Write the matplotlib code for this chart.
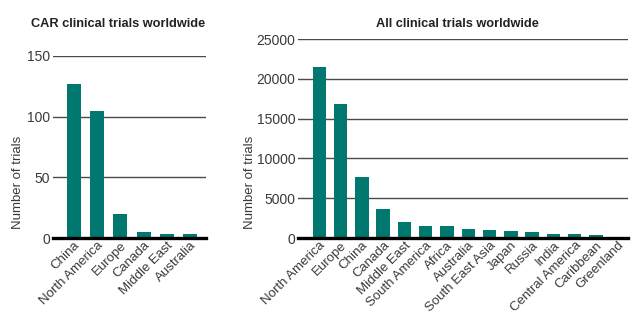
import matplotlib
matplotlib.use("Agg")
import matplotlib.pyplot as plt

plt.rcParams['font.family'] = ['Liberation Sans', 'DejaVu Sans']

car_regions = ["China", "North America", "Europe", "Canada", "Middle East", "Australia"]
car_trials = [127, 105, 20, 5, 3, 3]
car_ticks = [0, 50, 100, 150]

all_regions = ["North America", "Europe", "China", "Canada", "Middle East", "South America",
               "Africa", "Australia", "South East Asia", "Japan", "Russia", "India",
               "Central America", "Caribbean", "Greenland"]
all_trials = [21500, 16900, 7700, 3650, 1970, 1500, 1500, 1130, 1050, 880, 750, 540, 460, 380, 10]
all_ticks = [0, 5000, 10000, 15000, 20000, 25000]

BAR = "#00786F"
TXT = "#3a3a3a"
GRID = "#4a4a4a"
FS = 9.5

fig = plt.figure(figsize=(6.34, 3.23), dpi=100)

def style(ax, ticks, xlim):
    ax.set_ylim(0, ticks[-1])
    ax.set_xlim(*xlim)
    ax.set_yticks(ticks)
    ax.set_yticklabels([str(t) for t in ticks], fontsize=FS + 0.5, color=TXT)
    for t in ticks[1:]:
        ax.axhline(t, color=GRID, lw=1.0, zorder=1)
    for s in ["top", "right", "left"]:
        ax.spines[s].set_visible(False)
    ax.spines["bottom"].set_linewidth(2.4)
    ax.spines["bottom"].set_color("black")
    ax.spines["bottom"].set_zorder(5)
    ax.tick_params(axis="y", length=0, pad=2)
    ax.tick_params(axis="x", length=0, pad=1)

ax1 = fig.add_axes([0.0836, 0.263, 0.2414, 0.564])
x1 = list(range(len(car_regions)))
ax1.bar(x1, car_trials, width=0.6, color=BAR, zorder=3)
style(ax1, car_ticks, (-0.89, 5.68))
ax1.set_xticks(x1)
ax1.set_xticklabels(car_regions, rotation=45, ha="right", rotation_mode="anchor",
                    fontsize=FS, color=TXT)
fig.text(0.186, 0.925, "CAR clinical trials worldwide", ha="center", va="center",
         fontsize=9.2, fontweight="bold", color="#222222")
fig.text(0.028, 0.435, "Number of trials", rotation=90, ha="center", va="center",
         fontsize=FS, color=TXT)

ax2 = fig.add_axes([0.470, 0.263, 0.5205, 0.616])
x2 = list(range(len(all_regions)))
ax2.bar(x2, all_trials, width=0.63, color=BAR, zorder=3)
style(ax2, all_ticks, (-1.0, 14.5))
ax2.set_xticks(x2)
ax2.set_xticklabels(all_regions, rotation=45, ha="right", rotation_mode="anchor",
                    fontsize=FS, color=TXT)
fig.text(0.721, 0.925, "All clinical trials worldwide", ha="center", va="center",
         fontsize=9.2, fontweight="bold", color="#222222")
fig.text(0.394, 0.435, "Number of trials", rotation=90, ha="center", va="center",
         fontsize=FS, color=TXT)

fig.savefig("out.png", dpi=100, facecolor="white")
